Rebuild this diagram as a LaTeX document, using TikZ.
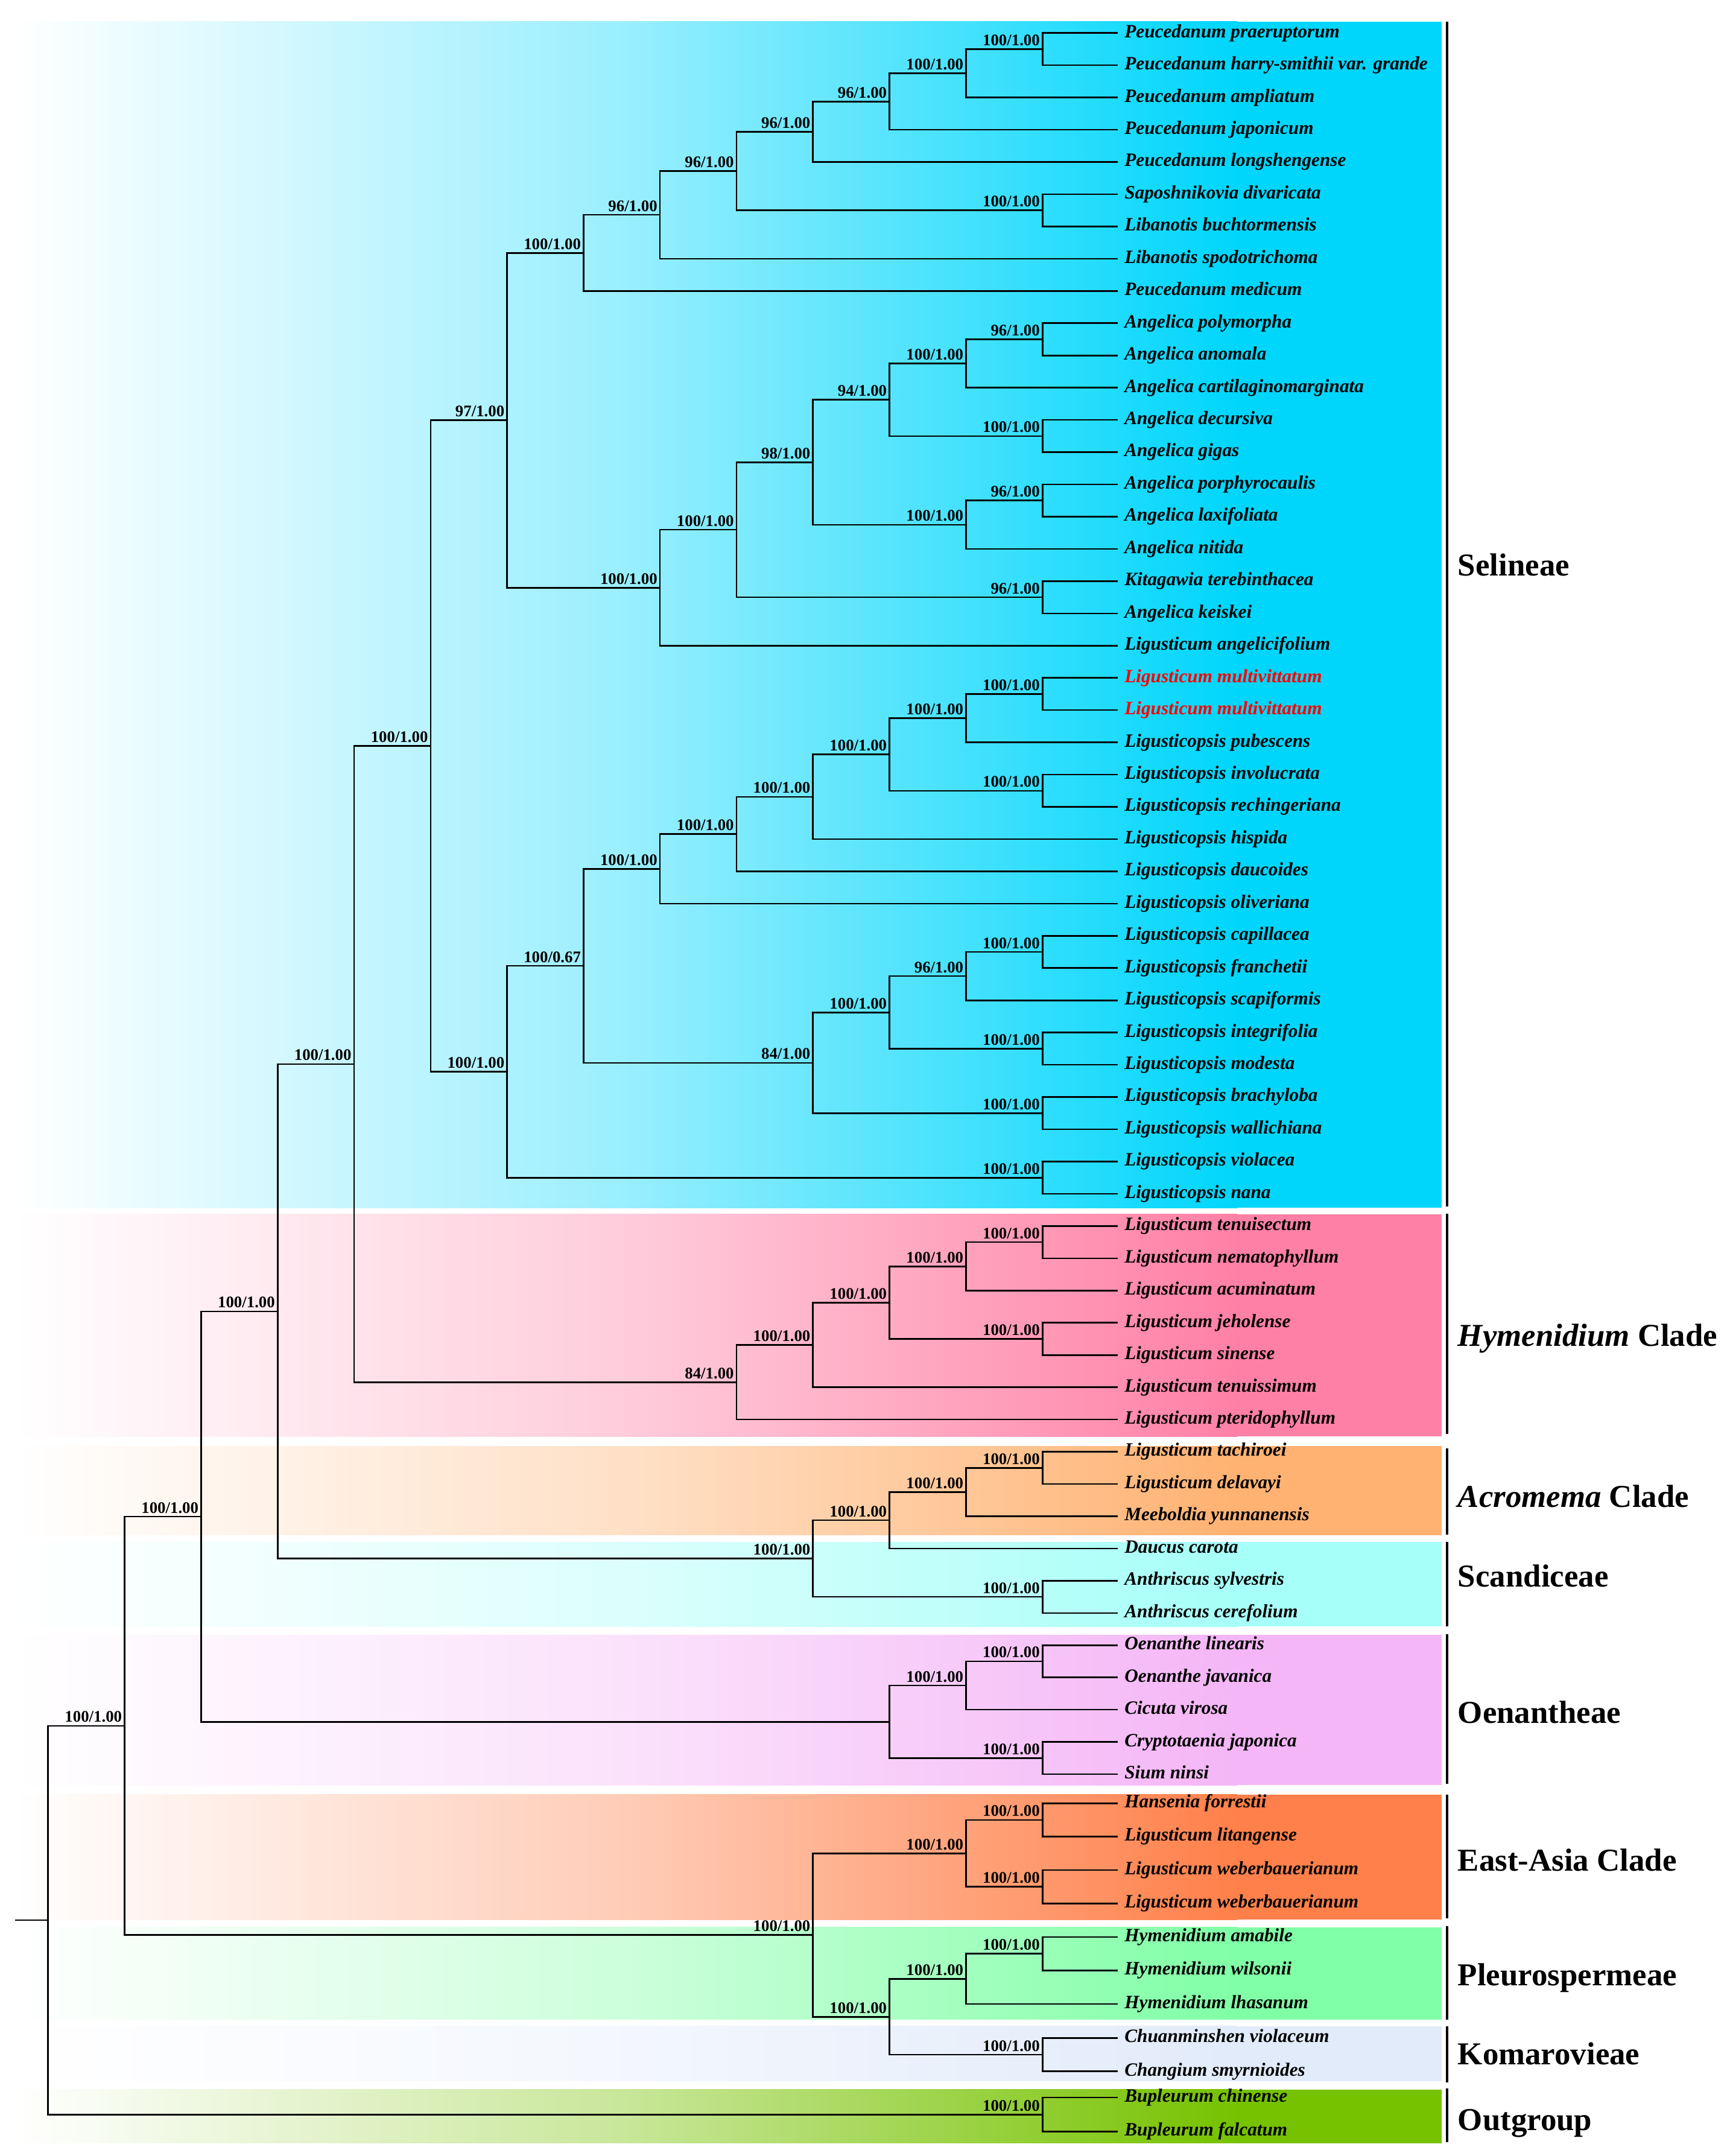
\documentclass[tikz,border=0pt]{standalone}
\usepackage{fontspec}
\setmainfont{Liberation Serif}
\usepackage{tikz}
\definecolor{selC}{RGB}{0,214,252}
\definecolor{hymC}{RGB}{255,128,166}
\definecolor{acrC}{RGB}{255,178,114}
\definecolor{scaC}{RGB}{166,255,248}
\definecolor{oenC}{RGB}{244,182,246}
\definecolor{eaC}{RGB}{255,128,74}
\definecolor{pleC}{RGB}{128,255,166}
\definecolor{komC}{RGB}{226,235,250}
\definecolor{outC}{RGB}{118,194,0}
\definecolor{newC}{RGB}{255,0,0}
\tikzset{
  branch/.style={line width=0.65pt},
  bar/.style={line width=1pt},
  band/.style={left color=white, right color=#1, middle color=#1!40!white},
  leaf/.style={anchor=west, inner xsep=2.6pt, inner ysep=0pt, text height=5.3pt, text depth=1.6pt,
    font=\fontsize{7.8}{9}\selectfont\bfseries\itshape},
  bs/.style={anchor=base east, inner sep=0pt, xshift=-0.9pt, yshift=1.5pt,
    font=\fontsize{6.7}{8}\selectfont\bfseries},
  grp/.style={anchor=west, inner sep=0pt, text height=8.8pt, text depth=0pt,
    font=\fontsize{13.2}{15}\selectfont\bfseries}
}
\begin{document}
\begin{tikzpicture}[x=0.02cm, y=-0.02cm]
    \useasboundingbox[fill=white] (0,0) rectangle (1258,1568);
    \shade[band=selC] (10.8,15.6) rectangle (900,878.5);
    \fill[selC] (899.5,15.6) rectangle (1048.6,878.5);
    \shade[band=hymC] (10.8,883) rectangle (900,1044.7);
    \fill[hymC] (899.5,883) rectangle (1048.6,1044.7);
    \shade[band=acrC] (10.8,1051.8) rectangle (900,1116.5);
    \fill[acrC] (899.5,1051.8) rectangle (1048.6,1116.5);
    \shade[band=scaC] (10.8,1121.5) rectangle (900,1183);
    \fill[scaC] (899.5,1121.5) rectangle (1048.6,1183);
    \shade[band=oenC] (10.8,1189) rectangle (900,1298.3);
    \fill[oenC] (899.5,1189) rectangle (1048.6,1298.3);
    \shade[band=eaC] (10.8,1305.1) rectangle (900,1396.1);
    \fill[eaC] (899.5,1305.1) rectangle (1048.6,1396.1);
    \shade[band=pleC] (10.8,1401.7) rectangle (900,1468.7);
    \fill[pleC] (899.5,1401.7) rectangle (1048.6,1468.7);
    \shade[band=komC] (10.8,1473.6) rectangle (900,1513.5);
    \fill[komC] (899.5,1473.6) rectangle (1048.6,1513.5);
    \shade[band=outC] (10.8,1519.6) rectangle (900,1558.7);
    \fill[outC] (899.5,1519.6) rectangle (1048.6,1558.7);

    \draw[bar] (1052.5,15.6) -- (1052.5,877.3);
    \draw[bar] (1052.5,882.8) -- (1052.5,1042.7);
    \draw[bar] (1052.5,1053.2) -- (1052.5,1115.9);
    \draw[bar] (1052.5,1121.3) -- (1052.5,1182.7);
    \draw[bar] (1052.5,1188.6) -- (1052.5,1297.2);
    \draw[bar] (1052.5,1305.4) -- (1052.5,1395.3);
    \draw[bar] (1052.5,1400.8) -- (1052.5,1468.9);
    \draw[bar] (1052.5,1473.5) -- (1052.5,1514.4);
    \draw[bar] (1052.5,1518.9) -- (1052.5,1558);

    \node[grp] (gSel) at (1060,411.2) {Selineae};
    \node[grp] (gHym) at (1060,971.4) {\itshape Hymenidium\upshape{} Clade};
    \node[grp] (gAcr) at (1060,1088.2) {\itshape Acromema\upshape{} Clade};
    \node[grp] (gSca) at (1060,1146.3) {Scandiceae};
    \node[grp] (gOen) at (1060,1245.4) {Oenantheae};
    \node[grp] (gEA) at (1060,1353) {East-Asia Clade};
    \node[grp] (gPle) at (1060,1436.2) {Pleurospermeae};
    \node[grp] (gKom) at (1060,1494) {Komarovieae};
    \node[grp] (gOut) at (1060,1541.6) {Outgroup};

    \node[leaf] (t1) at (813,24) {Peucedanum praeruptorum};
    \node[leaf] (t2) at (813,47.45) {Peucedanum harry-smithii var. grande};
    \node[leaf] (t3) at (813,70.9) {Peucedanum ampliatum};
    \node[leaf] (t4) at (813,94.35) {Peucedanum japonicum};
    \node[leaf] (t5) at (813,117.8) {Peucedanum longshengense};
    \node[leaf] (t6) at (813,141.25) {Saposhnikovia divaricata};
    \node[leaf] (t7) at (813,164.7) {Libanotis buchtormensis};
    \node[leaf] (t8) at (813,188.15) {Libanotis spodotrichoma};
    \node[leaf] (t9) at (813,211.6) {Peucedanum medicum};
    \node[leaf] (t10) at (813,235.05) {Angelica polymorpha};
    \node[leaf] (t11) at (813,258.5) {Angelica anomala};
    \node[leaf] (t12) at (813,281.95) {Angelica cartilaginomarginata};
    \node[leaf] (t13) at (813,305.4) {Angelica decursiva};
    \node[leaf] (t14) at (813,328.85) {Angelica gigas};
    \node[leaf] (t15) at (813,352.3) {Angelica porphyrocaulis};
    \node[leaf] (t16) at (813,375.75) {Angelica laxifoliata};
    \node[leaf] (t17) at (813,399.2) {Angelica nitida};
    \node[leaf] (t18) at (813,422.65) {Kitagawia terebinthacea};
    \node[leaf] (t19) at (813,446.1) {Angelica keiskei};
    \node[leaf] (t20) at (813,469.55) {Ligusticum angelicifolium};
    \node[leaf, text=newC] (t21) at (813,493) {Ligusticum multivittatum};
    \node[leaf, text=newC] (t22) at (813,516.45) {Ligusticum multivittatum};
    \node[leaf] (t23) at (813,539.9) {Ligusticopsis pubescens};
    \node[leaf] (t24) at (813,563.35) {Ligusticopsis involucrata};
    \node[leaf] (t25) at (813,586.8) {Ligusticopsis rechingeriana};
    \node[leaf] (t26) at (813,610.25) {Ligusticopsis hispida};
    \node[leaf] (t27) at (813,633.7) {Ligusticopsis daucoides};
    \node[leaf] (t28) at (813,657.15) {Ligusticopsis oliveriana};
    \node[leaf] (t29) at (813,680.6) {Ligusticopsis capillacea};
    \node[leaf] (t30) at (813,704.05) {Ligusticopsis franchetii};
    \node[leaf] (t31) at (813,727.5) {Ligusticopsis scapiformis};
    \node[leaf] (t32) at (813,750.95) {Ligusticopsis integrifolia};
    \node[leaf] (t33) at (813,774.4) {Ligusticopsis modesta};
    \node[leaf] (t34) at (813,797.85) {Ligusticopsis brachyloba};
    \node[leaf] (t35) at (813,821.3) {Ligusticopsis wallichiana};
    \node[leaf] (t36) at (813,844.75) {Ligusticopsis violacea};
    \node[leaf] (t37) at (813,868.2) {Ligusticopsis nana};
    \node[leaf] (t38) at (813,891.65) {Ligusticum tenuisectum};
    \node[leaf] (t39) at (813,915.1) {Ligusticum nematophyllum};
    \node[leaf] (t40) at (813,938.55) {Ligusticum acuminatum};
    \node[leaf] (t41) at (813,962) {Ligusticum jeholense};
    \node[leaf] (t42) at (813,985.45) {Ligusticum sinense};
    \node[leaf] (t43) at (813,1008.9) {Ligusticum tenuissimum};
    \node[leaf] (t44) at (813,1032.35) {Ligusticum pteridophyllum};
    \node[leaf] (t45) at (813,1055.8) {Ligusticum tachiroei};
    \node[leaf] (t46) at (813,1079.25) {Ligusticum delavayi};
    \node[leaf] (t47) at (813,1102.7) {Meeboldia yunnanensis};
    \node[leaf] (t48) at (813,1126.15) {Daucus carota};
    \node[leaf] (t49) at (813,1149.6) {Anthriscus sylvestris};
    \node[leaf] (t50) at (813,1173.05) {Anthriscus cerefolium};
    \node[leaf] (t51) at (813,1196.5) {Oenanthe linearis};
    \node[leaf] (t52) at (813,1219.95) {Oenanthe javanica};
    \node[leaf] (t53) at (813,1243.4) {Cicuta virosa};
    \node[leaf] (t54) at (813,1266.85) {Cryptotaenia japonica};
    \node[leaf] (t55) at (813,1290.3) {Sium ninsi};
    \node[leaf] (t56) at (813,1311.5) {Hansenia forrestii};
    \node[leaf] (t57) at (813,1335.7) {Ligusticum litangense};
    \node[leaf] (t58) at (813,1360) {Ligusticum weberbauerianum};
    \node[leaf] (t59) at (813,1384.4) {Ligusticum weberbauerianum};
    \node[leaf] (t60) at (813,1408.7) {Hymenidium amabile};
    \node[leaf] (t61) at (813,1433) {Hymenidium wilsonii};
    \node[leaf] (t62) at (813,1457.5) {Hymenidium lhasanum};
    \node[leaf] (t63) at (813,1482.2) {Chuanminshen violaceum};
    \node[leaf] (t64) at (813,1506.4) {Changium smyrnioides};
    \node[leaf] (t65) at (813,1525.4) {Bupleurum chinense};
    \node[leaf] (t66) at (813,1550.2) {Bupleurum falcatum};

    \coordinate (pe1) at (758.2,35.73);
    \coordinate (pe2) at (702.6,53.31);
    \coordinate (pe3) at (646.9,73.83);
    \coordinate (pe4) at (591.3,95.81);
    \coordinate (pe5) at (758.2,152.98);
    \coordinate (pe6) at (535.7,124.4);
    \coordinate (pe7) at (480,156.27);
    \coordinate (pe8) at (424.4,183.94);
    \coordinate (an1) at (758.2,246.78);
    \coordinate (an2) at (702.6,264.36);
    \coordinate (an3) at (758.2,317.13);
    \coordinate (an4) at (646.9,290.74);
    \coordinate (an5) at (758.2,364.03);
    \coordinate (an6) at (702.6,381.61);
    \coordinate (an7) at (591.3,336.18);
    \coordinate (an8) at (758.2,434.38);
    \coordinate (an9) at (535.7,385.28);
    \coordinate (an10) at (480,427.41);
    \coordinate (se1) at (368.8,305.68);
    \coordinate (li1) at (758.2,504.73);
    \coordinate (li2) at (702.6,522.31);
    \coordinate (li3) at (758.2,575.08);
    \coordinate (li4) at (646.9,548.69);
    \coordinate (li5) at (591.3,579.47);
    \coordinate (li6) at (535.7,606.58);
    \coordinate (li7) at (480,631.87);
    \coordinate (li8) at (758.2,692.33);
    \coordinate (li9) at (702.6,709.91);
    \coordinate (li10) at (758.2,762.68);
    \coordinate (li11) at (646.9,736.3);
    \coordinate (li12) at (758.2,809.58);
    \coordinate (li13) at (591.3,772.94);
    \coordinate (li14) at (424.4,702.4);
    \coordinate (li15) at (758.2,856.48);
    \coordinate (li16) at (368.8,779.44);
    \coordinate (se2) at (313.2,542.56);
    \coordinate (hy1) at (758.2,903.38);
    \coordinate (hy2) at (702.6,920.96);
    \coordinate (hy3) at (758.2,973.73);
    \coordinate (hy4) at (646.9,947.34);
    \coordinate (hy5) at (591.3,978.12);
    \coordinate (hy6) at (535.7,1005.24);
    \coordinate (cr1) at (257.5,773.9);
    \coordinate (ac1) at (758.2,1067.53);
    \coordinate (ac2) at (702.6,1085.11);
    \coordinate (ac3) at (646.9,1105.63);
    \coordinate (sc1) at (758.2,1161.33);
    \coordinate (sc2) at (591.3,1133.48);
    \coordinate (cr2) at (201.9,953.69);
    \coordinate (oe1) at (758.2,1208.23);
    \coordinate (oe2) at (702.6,1225.81);
    \coordinate (oe3) at (758.2,1278.58);
    \coordinate (oe4) at (646.9,1252.2);
    \coordinate (cr3) at (146.3,1102.95);
    \coordinate (ea1) at (758.2,1323.6);
    \coordinate (ea2) at (758.2,1372.2);
    \coordinate (ea3) at (702.6,1347.9);
    \coordinate (pl1) at (758.2,1420.85);
    \coordinate (pl2) at (702.6,1439.18);
    \coordinate (ko1) at (758.2,1494.3);
    \coordinate (ko2) at (646.9,1466.74);
    \coordinate (ea4) at (591.3,1407.32);
    \coordinate (cr4) at (90.6,1255.14);
    \coordinate (og1) at (758.2,1537.8);
    \coordinate (root) at (35,1396.47);
    \coordinate (base) at (10.8,1396.47);

    \draw[branch] (t1.west) -| (pe1) |- (t2.west);
    \draw[branch] (pe1) -| (pe2) |- (t3.west);
    \draw[branch] (pe2) -| (pe3) |- (t4.west);
    \draw[branch] (pe3) -| (pe4) |- (t5.west);
    \draw[branch] (t6.west) -| (pe5) |- (t7.west);
    \draw[branch] (pe4) -| (pe6) |- (pe5);
    \draw[branch] (pe6) -| (pe7) |- (t8.west);
    \draw[branch] (pe7) -| (pe8) |- (t9.west);
    \draw[branch] (t10.west) -| (an1) |- (t11.west);
    \draw[branch] (an1) -| (an2) |- (t12.west);
    \draw[branch] (t13.west) -| (an3) |- (t14.west);
    \draw[branch] (an2) -| (an4) |- (an3);
    \draw[branch] (t15.west) -| (an5) |- (t16.west);
    \draw[branch] (an5) -| (an6) |- (t17.west);
    \draw[branch] (an4) -| (an7) |- (an6);
    \draw[branch] (t18.west) -| (an8) |- (t19.west);
    \draw[branch] (an7) -| (an9) |- (an8);
    \draw[branch] (an9) -| (an10) |- (t20.west);
    \draw[branch] (pe8) -| (se1) |- (an10);
    \draw[branch] (t21.west) -| (li1) |- (t22.west);
    \draw[branch] (li1) -| (li2) |- (t23.west);
    \draw[branch] (t24.west) -| (li3) |- (t25.west);
    \draw[branch] (li2) -| (li4) |- (li3);
    \draw[branch] (li4) -| (li5) |- (t26.west);
    \draw[branch] (li5) -| (li6) |- (t27.west);
    \draw[branch] (li6) -| (li7) |- (t28.west);
    \draw[branch] (t29.west) -| (li8) |- (t30.west);
    \draw[branch] (li8) -| (li9) |- (t31.west);
    \draw[branch] (t32.west) -| (li10) |- (t33.west);
    \draw[branch] (li9) -| (li11) |- (li10);
    \draw[branch] (t34.west) -| (li12) |- (t35.west);
    \draw[branch] (li11) -| (li13) |- (li12);
    \draw[branch] (li7) -| (li14) |- (li13);
    \draw[branch] (t36.west) -| (li15) |- (t37.west);
    \draw[branch] (li14) -| (li16) |- (li15);
    \draw[branch] (se1) -| (se2) |- (li16);
    \draw[branch] (t38.west) -| (hy1) |- (t39.west);
    \draw[branch] (hy1) -| (hy2) |- (t40.west);
    \draw[branch] (t41.west) -| (hy3) |- (t42.west);
    \draw[branch] (hy2) -| (hy4) |- (hy3);
    \draw[branch] (hy4) -| (hy5) |- (t43.west);
    \draw[branch] (hy5) -| (hy6) |- (t44.west);
    \draw[branch] (se2) -| (cr1) |- (hy6);
    \draw[branch] (t45.west) -| (ac1) |- (t46.west);
    \draw[branch] (ac1) -| (ac2) |- (t47.west);
    \draw[branch] (ac2) -| (ac3) |- (t48.west);
    \draw[branch] (t49.west) -| (sc1) |- (t50.west);
    \draw[branch] (ac3) -| (sc2) |- (sc1);
    \draw[branch] (cr1) -| (cr2) |- (sc2);
    \draw[branch] (t51.west) -| (oe1) |- (t52.west);
    \draw[branch] (oe1) -| (oe2) |- (t53.west);
    \draw[branch] (t54.west) -| (oe3) |- (t55.west);
    \draw[branch] (oe2) -| (oe4) |- (oe3);
    \draw[branch] (cr2) -| (cr3) |- (oe4);
    \draw[branch] (t56.west) -| (ea1) |- (t57.west);
    \draw[branch] (t58.west) -| (ea2) |- (t59.west);
    \draw[branch] (ea1) -| (ea3) |- (ea2);
    \draw[branch] (t60.west) -| (pl1) |- (t61.west);
    \draw[branch] (pl1) -| (pl2) |- (t62.west);
    \draw[branch] (t63.west) -| (ko1) |- (t64.west);
    \draw[branch] (pl2) -| (ko2) |- (ko1);
    \draw[branch] (ea3) -| (ea4) |- (ko2);
    \draw[branch] (cr3) -| (cr4) |- (ea4);
    \draw[branch] (t65.west) -| (og1) |- (t66.west);
    \draw[branch] (cr4) -| (root) |- (og1);
    \draw[branch] (base) -- (root);

    \node[bs] (bpe1) at (pe1) {100/1.00};
    \node[bs] (bpe2) at (pe2) {100/1.00};
    \node[bs] (bpe3) at (pe3) {96/1.00};
    \node[bs] (bpe4) at (pe4) {96/1.00};
    \node[bs] (bpe5) at (pe5) {100/1.00};
    \node[bs] (bpe6) at (pe6) {96/1.00};
    \node[bs] (bpe7) at (pe7) {96/1.00};
    \node[bs] (bpe8) at (pe8) {100/1.00};
    \node[bs] (ban1) at (an1) {96/1.00};
    \node[bs] (ban2) at (an2) {100/1.00};
    \node[bs] (ban3) at (an3) {100/1.00};
    \node[bs] (ban4) at (an4) {94/1.00};
    \node[bs] (ban5) at (an5) {96/1.00};
    \node[bs] (ban6) at (an6) {100/1.00};
    \node[bs] (ban7) at (an7) {98/1.00};
    \node[bs] (ban8) at (an8) {96/1.00};
    \node[bs] (ban9) at (an9) {100/1.00};
    \node[bs] (ban10) at (an10) {100/1.00};
    \node[bs] (bse1) at (se1) {97/1.00};
    \node[bs] (bli1) at (li1) {100/1.00};
    \node[bs] (bli2) at (li2) {100/1.00};
    \node[bs] (bli3) at (li3) {100/1.00};
    \node[bs] (bli4) at (li4) {100/1.00};
    \node[bs] (bli5) at (li5) {100/1.00};
    \node[bs] (bli6) at (li6) {100/1.00};
    \node[bs] (bli7) at (li7) {100/1.00};
    \node[bs] (bli8) at (li8) {100/1.00};
    \node[bs] (bli9) at (li9) {96/1.00};
    \node[bs] (bli10) at (li10) {100/1.00};
    \node[bs] (bli11) at (li11) {100/1.00};
    \node[bs] (bli12) at (li12) {100/1.00};
    \node[bs] (bli13) at (li13) {84/1.00};
    \node[bs] (bli14) at (li14) {100/0.67};
    \node[bs] (bli15) at (li15) {100/1.00};
    \node[bs] (bli16) at (li16) {100/1.00};
    \node[bs] (bse2) at (se2) {100/1.00};
    \node[bs] (bhy1) at (hy1) {100/1.00};
    \node[bs] (bhy2) at (hy2) {100/1.00};
    \node[bs] (bhy3) at (hy3) {100/1.00};
    \node[bs] (bhy4) at (hy4) {100/1.00};
    \node[bs] (bhy5) at (hy5) {100/1.00};
    \node[bs] (bhy6) at (hy6) {84/1.00};
    \node[bs] (bcr1) at (cr1) {100/1.00};
    \node[bs] (bac1) at (ac1) {100/1.00};
    \node[bs] (bac2) at (ac2) {100/1.00};
    \node[bs] (bac3) at (ac3) {100/1.00};
    \node[bs] (bsc1) at (sc1) {100/1.00};
    \node[bs] (bsc2) at (sc2) {100/1.00};
    \node[bs] (bcr2) at (cr2) {100/1.00};
    \node[bs] (boe1) at (oe1) {100/1.00};
    \node[bs] (boe2) at (oe2) {100/1.00};
    \node[bs] (boe3) at (oe3) {100/1.00};
    \node[bs] (bcr3) at (cr3) {100/1.00};
    \node[bs] (bea1) at (ea1) {100/1.00};
    \node[bs] (bea2) at (ea2) {100/1.00};
    \node[bs] (bea3) at (ea3) {100/1.00};
    \node[bs] (bpl1) at (pl1) {100/1.00};
    \node[bs] (bpl2) at (pl2) {100/1.00};
    \node[bs] (bko1) at (ko1) {100/1.00};
    \node[bs] (bko2) at (ko2) {100/1.00};
    \node[bs] (bea4) at (ea4) {100/1.00};
    \node[bs] (bcr4) at (cr4) {100/1.00};
    \node[bs] (bog1) at (og1) {100/1.00};
\end{tikzpicture}
\end{document}
